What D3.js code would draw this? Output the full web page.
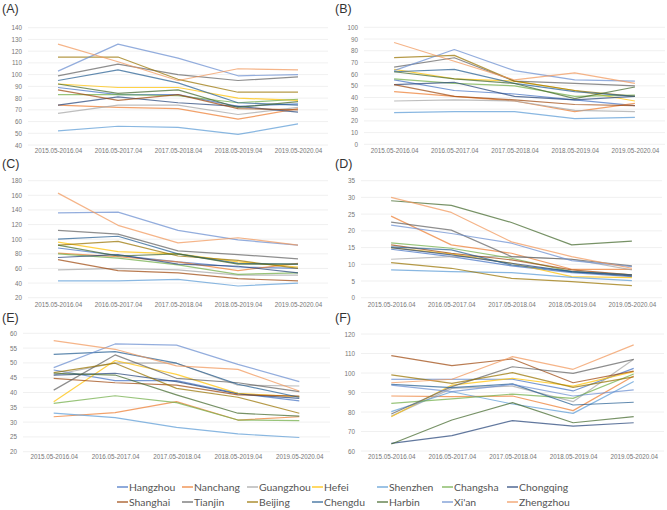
<!DOCTYPE html>
<html><head><meta charset="utf-8">
<script src="https://cdn.jsdelivr.net/npm/d3@7/dist/d3.min.js"></script>
<style>body{margin:0;background:#fff}svg{display:block}</style>
</head><body><svg id="c" width="667" height="510"></svg>
<script>
const periods = ["2015.05-2016.04","2016.05-2017.04","2017.05-2018.04","2018.05-2019.04","2019.05-2020.04"];
const cities = ["Hangzhou","Nanchang","Guangzhou","Hefei","Shenzhen","Changsha","Chongqing","Shanghai","Tianjin","Beijing","Chengdu","Harbin","Xi'an","Zhengzhou"];
const colors = ["#4472C4","#ED7D31","#A5A5A5","#FFC000","#5B9BD5","#70AD47","#264478","#9E480E","#636363","#997300","#255E91","#43682B","#698ED0","#F1975A"];

// values per panel, rows in city order
const valuesA = [
 [89,83,83,73,75],[74,72,71,62,71],[67,74,74,66,72],[92,89,89,80,78],[52,56,55,49,58],
 [83,83,82,76,79],[74,81,76,73,68],[87,78,83,71,70],[99,109,100,95,98],[115,115,96,85,85],
 [95,104,93,76,74],[92,84,87,72,77],[103,126,114,99,100],[126,111,95,105,104]];
const valuesB = [
 [55,46,43,38,33],[45,41,37,28,35],[37,38,37,29,28],[64,56,54,46,37],[27,28,28,22,23],
 [56,52,50,41,42],[51,53,41,38,41],[51,41,38,34,33],[66,74,54,52,50],[74,76,54,46,41],
 [62,64,52,45,41],[62,56,52,39,49],[63,81,63,55,54],[87,71,55,61,52]];
const valuesC = [
 [88,78,69,62,60],[81,76,69,57,67],[58,60,58,51,51],[96,83,80,69,62],[43,43,45,36,40],
 [80,74,65,52,54],[75,79,66,63,54],[72,57,54,46,43],[112,107,84,79,73],[92,97,77,71,60],
 [100,104,80,67,66],[92,77,80,66,66],[136,137,112,99,92],[163,119,95,102,92]];
const valuesD = [
 [14.5,12.3,9.5,7.5,6.3],[24.4,15.8,13.3,8.5,8.5],[11.5,12.3,12.3,11.5,8.3],[15,13.1,10.3,6.3,6],[8.3,7.8,7.5,6.1,5.1],
 [16.4,14.8,11.8,7.8,6.8],[15,12.8,10.3,7.8,6.5],[15.8,13.3,11.3,8.3,6.8],[22.6,20.2,12.3,11.5,9.5],[10.5,8.8,5.8,4.8,3.6],
 [15.2,14.3,9.8,7.8,6.8],[29,27.6,22.5,15.8,16.9],[21.7,19.2,16.3,11.1,9.3],[30,25.5,16.7,12.3,8.8]];
const valuesE = [
 [47.6,44,44,39.7,37.2],[31.8,33.2,36.9,30.7,31.8],[45.9,50,49.9,42.5,42.2],[36.9,50.8,46.1,39.7,38.6],[33,31.5,28.2,26,24.8],
 [36.3,38.9,36.6,30.7,30.5],[45.9,46.5,43.7,39.5,38],[44.8,43.3,42.5,39.2,38.8],[40.8,52.7,44.8,43.3,40.3],[46.7,49.9,41.4,38.4,33],
 [52.9,53.8,49.9,42.8,38.4],[46.5,45.9,39.2,33,32],[48.4,56.4,56,49.5,43.7],[57.5,54.6,49,47.8,40.5]];
const valuesF = [
 [96.8,96.8,96.8,90.8,102.4],[88.2,87.9,88.2,80.7,98.5],[77.9,92.1,93.3,85.3,107],[77.6,93.8,97.3,93.3,100.7],[80.2,90.4,84.1,79.3,95.6],
 [84.4,86.7,89.2,87,99.5],[63.9,67.9,75.6,72.8,74.5],[108.9,103.8,107.2,95,101],[79,93,103.2,99.8,107],[99,94.7,100.2,92.6,98],
 [94.2,92.5,94.4,83.6,85],[63.6,75.9,84.8,74.5,77.6],[93.8,90.4,94.2,88.2,91.3],[95,96.8,108.4,101.9,114.4]];

const ticksA = d3.range(40,141,10), ticksB = d3.range(0,101,10), ticksC = d3.range(20,181,20);
const ticksD = d3.range(0,36,5), ticksE = d3.range(20,61,5), ticksF = d3.range(60,121,10);

const panels = [
 {label:"(A)", lx:2, ly:8,   vals:valuesA, ticks:ticksA, x:[28,328], y:[145,27.7], xl:151.5},
 {label:"(B)", lx:335, ly:8, vals:valuesB, ticks:ticksB, x:[364,665], y:[144.3,27.3], xl:151.5},
 {label:"(C)", lx:2, ly:163, vals:valuesC, ticks:ticksC, x:[28,328], y:[297.7,180.7], xl:305.5},
 {label:"(D)", lx:335, ly:163, vals:valuesD, ticks:ticksD, x:[361,662], y:[297.7,180.7], xl:305.5},
 {label:"(E)", lx:2, ly:317, vals:valuesE, ticks:ticksE, x:[23,330], y:[451.7,333.3], xl:458},
 {label:"(F)", lx:335, ly:317, vals:valuesF, ticks:ticksF, x:[361,664], y:[451,334], xl:458}
];

const svg = d3.select("#c");
const fontTick = "'Liberation Sans', Arial, sans-serif";

panels.forEach(p => {
  const g = svg.append("g");
  const t = p.ticks;
  const x = d3.scalePoint().domain(periods).range(p.x).padding(0.5);
  const y = d3.scaleLinear().domain([t[0], t[t.length-1]]).range(p.y);
  g.selectAll("line.grid").data(t).join("line")
    .attr("x1", p.x[0]).attr("x2", p.x[1])
    .attr("y1", d => y(d)).attr("y2", d => y(d))
    .attr("stroke", "#ececec").attr("stroke-width", 0.8);
  const ya = d3.axisLeft(y).tickValues(t).tickSize(0).tickPadding(6);
  const yg = g.append("g").attr("transform", `translate(${p.x[0]},0)`).call(ya);
  yg.select(".domain").remove();
  yg.selectAll("text").attr("fill","#777").style("font-size","6.3px").style("font-family",fontTick);
  const xa = d3.axisBottom(x).tickSize(0).tickPadding(0);
  const xg = g.append("g").attr("transform", `translate(0,${p.xl-3})`).call(xa);
  xg.select(".domain").remove();
  xg.selectAll("text").attr("fill","#777").style("font-size","6.3px").style("font-family",fontTick);
  const line = d3.line().x((d,i) => x(periods[i])).y(d => y(d));
  g.selectAll("path.series").data(p.vals).join("path")
    .attr("d", line).attr("fill","none")
    .attr("stroke", (d,i) => colors[i]).attr("stroke-opacity", 0.72)
    .attr("stroke-width", 1.2).attr("stroke-linejoin","round");
  svg.append("text").attr("x", p.lx).attr("y", p.ly).attr("dy","0.36em")
    .style("font-family","'Liberation Sans', Arial, sans-serif").style("font-size","12.5px")
    .attr("fill","#333").text(p.label);
});

const leg = svg.append("g");
cities.forEach((c,i) => {
  const col = i % 7, row = Math.floor(i / 7);
  const lx = 117 + col * 65, ly = 487 + row * 15;
  leg.append("line").attr("x1", lx).attr("x2", lx+11).attr("y1", ly).attr("y2", ly)
    .attr("stroke", colors[i]).attr("stroke-opacity",0.8).attr("stroke-width", 1.5);
  leg.append("text").attr("x", lx+12).attr("y", ly).attr("dy","0.35em")
    .style("font-family","Lato, 'Open Sans', sans-serif").style("font-size","10.4px")
    .attr("fill","#555").text(c);
});
</script></body></html>
